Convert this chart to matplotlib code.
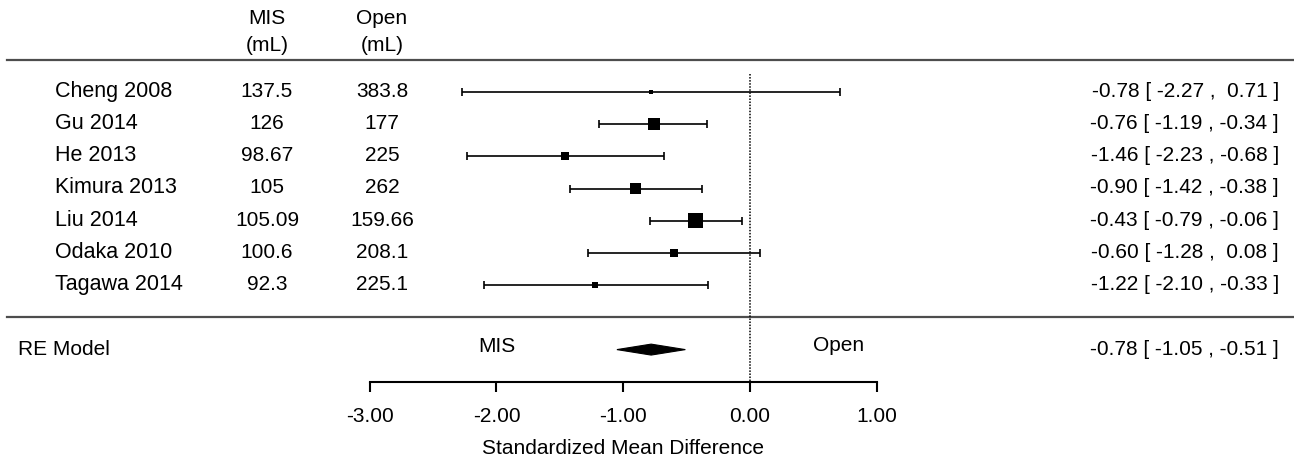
import matplotlib
matplotlib.use("Agg")
import matplotlib.pyplot as plt
from matplotlib.patches import Polygon

plt.rcParams['font.family'] = ['Liberation Sans', 'DejaVu Sans']
plt.rcParams['axes.unicode_minus'] = False

# study data
studies = ['Cheng 2008', 'Gu 2014', 'He 2013', 'Kimura 2013', 'Liu 2014', 'Odaka 2010', 'Tagawa 2014']
mis_ml = ['137.5', '126', '98.67', '105', '105.09', '100.6', '92.3']
open_ml = ['383.8', '177', '225', '262', '159.66', '208.1', '225.1']
smd = [-0.78, -0.76, -1.46, -0.90, -0.43, -0.60, -1.22]
ci_lo = [-2.27, -1.19, -2.23, -1.42, -0.79, -1.28, -2.10]
ci_hi = [0.71, -0.34, -0.68, -0.38, -0.06, 0.08, -0.33]
weights = [6.3, 18.9, 12.6, 17.3, 23.6, 11.5, 9.8]  # estimated %

# pooled random effects estimate
re_est = -0.78
re_lo = -1.05
re_hi = -0.51

xticks = [-3, -2, -1, 0, 1]
xticklabels = ['-3.00', '-2.00', '-1.00', '0.00', '1.00']

# layout (x in effect units, y in rows)
px = 126.75           # pixels per unit
x0 = 750              # pixel of zero
W, H = 1294, 460
row_px = 32.2
row0 = 93
fs = 15

fig = plt.figure(figsize=(W / 100, H / 100), dpi=100)
ax = fig.add_axes([0, 0, 1, 1])
ax.set_xlim(-x0 / px, (W - x0) / px)
ax.set_ylim((H - row0) / row_px, -row0 / row_px)


def xp(p):
    return (p - x0) / px


rows = list(range(len(studies)))
re_row = 8.0
axis_row = 9.0

# header
ax.text(xp(267), -2.3, 'MIS', ha='center', va='center', fontsize=fs)
ax.text(xp(267), -1.46, '(mL)', ha='center', va='center', fontsize=fs)
ax.text(xp(382), -2.3, 'Open', ha='center', va='center', fontsize=fs)
ax.text(xp(382), -1.46, '(mL)', ha='center', va='center', fontsize=fs)

# rules
ax.plot([xp(7), xp(W)], [-1, -1], color='0.3', lw=1.6)
ax.plot([xp(7), xp(W)], [7, 7], color='0.3', lw=1.6)

# zero line
ax.plot([0, 0], [-0.56, axis_row], color='black', lw=1.1, ls=(0, (1.0, 1.0)))

# study rows
for i in rows:
    y = rows[i] - 0.05
    ax.text(xp(55), y, studies[i], ha='left', va='center', fontsize=fs + 0.5)
    ax.text(xp(267), y, mis_ml[i], ha='center', va='center', fontsize=fs)
    ax.text(xp(382), y, open_ml[i], ha='center', va='center', fontsize=fs)
    lab = '%.2f [%6.2f ,%6.2f ]' % (smd[i], ci_lo[i], ci_hi[i])
    ax.text(xp(1279), y, lab, ha='right', va='center', fontsize=fs)

xerr = [[smd[i] - ci_lo[i] for i in rows], [ci_hi[i] - smd[i] for i in rows]]
ax.errorbar(smd, rows, xerr=xerr, fmt='none', ecolor='black', elinewidth=1.2,
            capsize=2.6, capthick=1.2)
wmax = max(weights)
sizes = [(15 * w / wmax / 1.389) ** 2 for w in weights]
ax.scatter(smd, rows, s=sizes, marker='s', color='black', zorder=3, linewidths=0)

# summary
ax.text(xp(18), re_row - 0.03, 'RE Model', ha='left', va='center', fontsize=fs)
h = 0.17
diamond = Polygon([[re_lo, re_row], [re_est, re_row - h], [re_hi, re_row], [re_est, re_row + h]],
                  closed=True, facecolor='black', edgecolor='black', lw=0.8)
ax.add_patch(diamond)
lab = '%.2f [%6.2f ,%6.2f ]' % (re_est, re_lo, re_hi)
ax.text(xp(1279), re_row - 0.03, lab, ha='right', va='center', fontsize=fs)
ax.text(-2.0, re_row - 0.12, 'MIS', ha='center', va='center', fontsize=fs)
ax.text(0.7, re_row - 0.15, 'Open', ha='center', va='center', fontsize=fs)

# x axis
for s in ['left', 'right', 'top']:
    ax.spines[s].set_visible(False)
ax.spines['bottom'].set_position(('data', axis_row))
ax.spines['bottom'].set_bounds(xticks[0], xticks[-1])
ax.spines['bottom'].set_linewidth(1.5)
ax.set_xticks(xticks)
ax.set_xticklabels(xticklabels)
ax.tick_params(axis='x', direction='out', length=7.5, width=1.5, pad=10, labelsize=fs)
ax.set_yticks([])
ax.text(-1.0, 11.05, 'Standardized Mean Difference', ha='center', va='center', fontsize=fs)

fig.savefig('out.png', dpi=100)
